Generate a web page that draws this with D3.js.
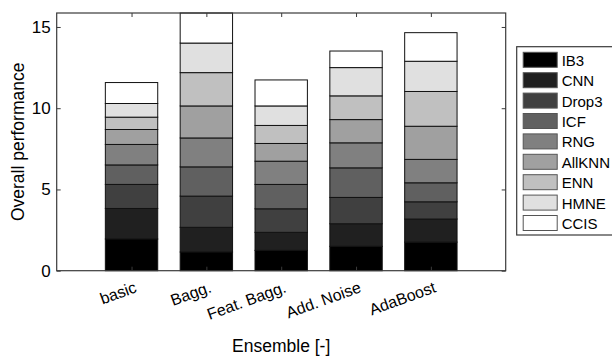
<!DOCTYPE html>
<html>
<head>
<meta charset="utf-8">
<script src="https://cdn.jsdelivr.net/npm/d3@7"></script>
<style>
  body { margin: 0; background: #fff; }
  svg { display: block; font-family: "Liberation Sans", Arial, sans-serif; }
</style>
</head>
<body>
<div id="chart"></div>
<script>
(function() {

const w = 612;
const h = 358;

// data
const ensembles = ["basic", "Bagg.", "Feat. Bagg.", "Add. Noise", "AdaBoost"];
const methods = ["IB3", "CNN", "Drop3", "ICF", "RNG", "AllKNN", "ENN", "HMNE", "CCIS"];
const ib3    = [1.95, 1.15, 1.25, 1.50, 1.76];
const cnn    = [1.88, 1.52, 1.11, 1.39, 1.42];
const drop3  = [1.48, 1.92, 1.45, 1.62, 1.06];
const icf    = [1.20, 1.80, 1.50, 1.82, 1.17];
const rng    = [1.26, 1.78, 1.43, 1.54, 1.44];
const allknn = [0.92, 1.97, 1.09, 1.43, 2.04];
const enn    = [0.76, 2.05, 1.11, 1.46, 2.14];
const hmne   = [0.84, 1.82, 1.20, 1.74, 1.86];
const ccis   = [1.29, 1.85, 1.60, 1.02, 1.76];
const yTicks = [0, 5, 10, 15];

const series = [ib3, cnn, drop3, icf, rng, allknn, enn, hmne, ccis];
const colours = ["#000000", "#202020", "#404040", "#606060", "#808080",
                 "#a0a0a0", "#c0c0c0", "#e0e0e0", "#ffffff"];

const left = 56.7, right = 505.7, top = 13, bottom = 270.7;

// build rows for d3.stack
const rows = ensembles.map(function(e, i) {
    var r = { name: e };
    methods.forEach(function(m, j) { r[m] = series[j][i]; });
    return r;
});
const stacked = d3.stack().keys(methods)(rows);

const xScale = d3.scaleLinear().domain([0, ensembles.length + 1]).range([left, right]);
const yScale = d3.scaleLinear().domain([0, 15.86]).range([bottom, top]);
const barW = xScale(0.7) - xScale(0);

const svg = d3.select("#chart")
    .append("svg")
    .attr("width", w)
    .attr("height", h);

// bars
svg.selectAll("g.layer")
    .data(stacked)
    .enter()
    .append("g")
    .attr("class", "layer")
    .attr("fill", function(d, i) { return colours[i]; })
    .selectAll("rect")
    .data(function(d) { return d; })
    .enter()
    .append("rect")
    .attr("x", function(d, i) { return xScale(i + 1) - barW / 2; })
    .attr("y", function(d) { return yScale(d[1]); })
    .attr("width", barW)
    .attr("height", function(d) { return yScale(d[0]) - yScale(d[1]); })
    .attr("stroke", "#111")
    .attr("stroke-width", 1);

// axes box
const axisCol = "#3a3a3a";
svg.append("rect")
    .attr("x", left).attr("y", top)
    .attr("width", right - left).attr("height", bottom - top)
    .attr("fill", "none").attr("stroke", axisCol).attr("stroke-width", 1.2);

const catTicks = d3.range(1, ensembles.length + 1);

// bottom + top ticks
svg.append("g")
    .attr("transform", `translate(0,${bottom})`)
    .call(d3.axisBottom(xScale).tickValues(catTicks).tickSizeInner(-4).tickSizeOuter(0).tickFormat(""))
    .call(function(g) { g.select(".domain").remove(); g.selectAll("line").attr("stroke", axisCol); });
svg.append("g")
    .attr("transform", `translate(0,${top})`)
    .call(d3.axisTop(xScale).tickValues(catTicks).tickSizeInner(-4).tickSizeOuter(0).tickFormat(""))
    .call(function(g) { g.select(".domain").remove(); g.selectAll("line").attr("stroke", axisCol); });

// left + right ticks
svg.append("g")
    .attr("transform", `translate(${left},0)`)
    .call(d3.axisLeft(yScale).tickValues(yTicks).tickSizeInner(-4).tickSizeOuter(0).tickPadding(6))
    .call(function(g) {
        g.select(".domain").remove();
        g.selectAll("line").attr("stroke", axisCol);
        g.selectAll("text").attr("font-size", 17).attr("fill", "#000")
            .attr("font-family", "Liberation Sans, Arial, sans-serif");
    });
svg.append("g")
    .attr("transform", `translate(${right},0)`)
    .call(d3.axisRight(yScale).tickValues(yTicks).tickSizeInner(-4).tickSizeOuter(0).tickFormat(""))
    .call(function(g) { g.select(".domain").remove(); g.selectAll("line").attr("stroke", axisCol); });

// rotated category labels
svg.selectAll("text.cat")
    .data(ensembles)
    .enter()
    .append("text")
    .attr("class", "cat")
    .attr("transform", function(d, i) {
        return `translate(${xScale(i + 1) + 6},${bottom + 21}) rotate(-20)`;
    })
    .attr("text-anchor", "end")
    .attr("font-size", 16)
    .text(function(d) { return d; });

// axis titles
svg.append("text")
    .attr("x", (left + right) / 2)
    .attr("y", 352)
    .attr("text-anchor", "middle")
    .attr("font-size", 17.5)
    .text("Ensemble [-]");

svg.append("text")
    .attr("transform", `translate(24,${(top + bottom) / 2}) rotate(-90)`)
    .attr("text-anchor", "middle")
    .attr("font-size", 17.5)
    .text("Overall performance");

// legend
const lg = svg.append("g").attr("transform", "translate(516.7,46.7)");
lg.append("rect")
    .attr("width", 110).attr("height", 188.3)
    .attr("fill", "#fff").attr("stroke", axisCol).attr("stroke-width", 1.2);
const items = lg.selectAll("g.item")
    .data(methods)
    .enter()
    .append("g")
    .attr("class", "item")
    .attr("transform", function(d, i) { return `translate(6.5,${5.6 + i * 20.4})`; });
items.append("rect")
    .attr("width", 34).attr("height", 15)
    .attr("fill", function(d, i) { return colours[i]; })
    .attr("stroke", "#555").attr("stroke-width", 1);
items.append("text")
    .attr("x", 38.5)
    .attr("y", 13.5)
    .attr("font-size", 15)
    .text(function(d) { return d; });

})();
</script>
</body>
</html>
